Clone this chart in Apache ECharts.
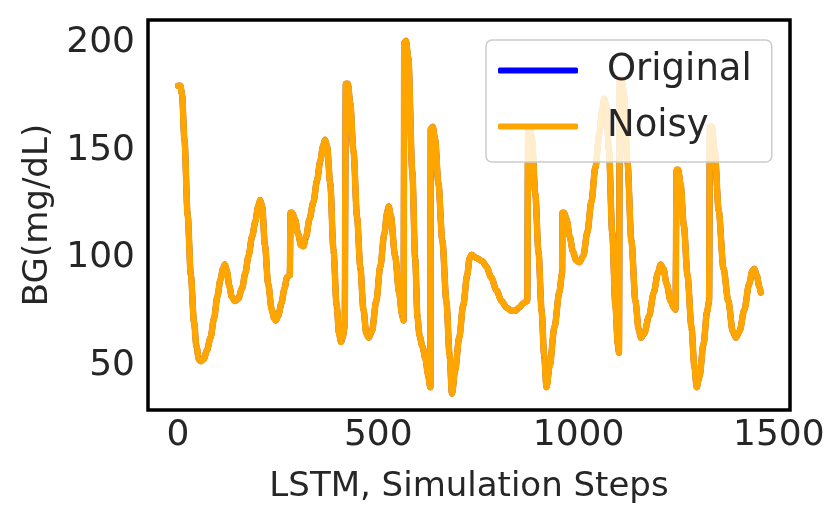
<!DOCTYPE html>
<html>
<head>
<meta charset="utf-8">
<title>BG trace</title>
<script src="https://cdn.jsdelivr.net/npm/echarts@6/dist/echarts.min.js"></script>
<style>
    html, body { margin: 0; padding: 0; background: #fff; }
    #chart { width: 830px; height: 523px; }
</style>
</head>
<body>
<div id="chart"></div>
<script>
// simulation steps (x)
var steps = [
    0, 6, 10, 16, 24, 32, 40, 46, 52, 57, 64, 72, 81, 90, 98, 106, 112, 117, 122, 128,
    134, 142, 150, 160, 168, 176, 185, 193, 200, 205, 210, 217, 225, 234, 240, 244, 250, 258, 266, 272,
    279, 281, 285, 292, 300, 307, 313, 320, 328, 338, 347, 355, 362, 367, 372, 380, 388, 396, 402, 407,
    411, 416, 419, 424, 430, 438, 447, 455, 463, 470, 476, 484, 495, 505, 515, 522, 526, 531, 542, 552,
    559, 563, 565, 569, 575, 585, 592, 598, 603, 610, 618, 624, 630, 631, 636, 642, 650, 660, 670, 678,
    684, 692, 702, 712, 722, 728, 733, 745, 760, 770, 782, 795, 808, 820, 832, 842, 852, 862, 872, 874,
    879, 884, 892, 900, 908, 914, 920, 928, 940, 952, 959, 960, 964, 970, 978, 986, 994, 1002, 1012, 1022,
    1032, 1042, 1052, 1059, 1064, 1069, 1076, 1084, 1092, 1098, 1101, 1103, 1108, 1114, 1122, 1132, 1142, 1150, 1156, 1164,
    1176, 1188, 1198, 1205, 1212, 1220, 1230, 1238, 1242, 1245, 1249, 1255, 1263, 1272, 1282, 1289, 1295, 1302, 1312, 1321,
    1326, 1328, 1333, 1340, 1350, 1362, 1374, 1385, 1393, 1402, 1414, 1426, 1434, 1439, 1445, 1451, 1455
];
// blood glucose, mg/dL
var bgOriginal = [
    180, 180, 176, 155, 120, 92, 70, 59, 53, 52, 53, 57, 63, 72, 82, 90, 95, 97, 94, 87,
    82, 80, 81, 86, 93, 101, 110, 117, 124, 127, 124, 106, 88, 76, 72, 71, 73, 79, 86, 91,
    92, 121, 121, 118, 111, 106, 105.5, 110, 118, 126, 136, 145, 152, 155, 152, 135, 104, 78, 65, 61,
    63, 68, 181, 181, 172, 150, 119, 96, 76, 65, 63, 66, 80, 96, 111, 121, 124, 120, 101, 84,
    74, 71, 200, 201, 193, 140, 100, 72, 64, 59, 53, 46, 40, 160, 161, 155, 135, 108, 80, 55,
    37, 48, 63, 78, 92, 100, 101.5, 100, 98.5, 96, 91, 85, 80, 77, 75.5, 75.5, 77, 79, 80, 159,
    160, 155, 130, 103, 75, 55, 40, 50, 68, 84, 93, 121, 121, 118, 110, 103, 99, 98, 101, 112,
    126, 142, 158, 169, 174, 171, 150, 112, 78, 60, 56, 183, 183, 175, 145, 108, 80, 67, 63, 65,
    73, 84, 93, 97, 95, 88, 80, 77, 76, 141, 141, 134, 115, 92, 68, 50, 40, 45, 60, 75,
    80, 161, 161, 150, 122, 95, 80, 66, 63, 66, 76, 88, 94, 95, 92, 87, 84
];
// noise is too small to see at this scale
var bgNoisy = bgOriginal.slice();

var xTicks = [0, 500, 1000, 1500];
var yTicks = [50, 100, 150, 200];

function pairs(xs, ys) {
    var out = [];
    for (var i = 0; i < xs.length; i++) {
        out.push([xs[i], ys[i]]);
    }
    return out;
}

// plain numbers, no thousands separator
function plain(v) {
    return String(v);
}

var textColor = '#262626';
var font = 'DejaVu Sans';

var chart = echarts.init(document.getElementById('chart'));
chart.setOption({
    animation: false,
    backgroundColor: '#fff',
    grid: {
        left: 148,
        right: 40,
        top: 20,
        bottom: 113,
        show: true,
        borderColor: '#000',
        borderWidth: 3.5,
        backgroundColor: 'transparent'
    },
    legend: {
        orient: 'vertical',
        left: 486,
        top: 40,
        padding: [12, 20, 17, 12],
        itemGap: 19,
        itemWidth: 80,
        itemHeight: 6,
        icon: 'roundRect',
        backgroundColor: 'rgba(255,255,255,0.8)',
        borderColor: '#cccccc',
        borderWidth: 1.5,
        borderRadius: 6,
        textStyle: {
            color: textColor,
            fontFamily: font,
            fontSize: 37,
            padding: [0, 0, 0, 24]
        },
        data: ['Original', 'Noisy']
    },
    xAxis: {
        type: 'value',
        min: -75,
        max: 1528,
        name: 'LSTM, Simulation Steps',
        nameLocation: 'middle',
        nameGap: 60,
        nameTextStyle: { color: textColor, fontFamily: font, fontSize: 34 },
        axisLine: { show: false },
        axisTick: { show: false },
        splitLine: { show: false },
        axisLabel: {
            customValues: xTicks,
            formatter: plain,
            color: textColor,
            fontFamily: font,
            fontSize: 36,
            margin: 8
        }
    },
    yAxis: {
        type: 'value',
        min: 29.4,
        max: 210.6,
        name: 'BG(mg/dL)',
        nameLocation: 'middle',
        nameGap: 93,
        nameTextStyle: { color: textColor, fontFamily: font, fontSize: 34 },
        axisLine: { show: false },
        axisTick: { show: false },
        splitLine: { show: false },
        axisLabel: {
            customValues: yTicks,
            formatter: plain,
            color: textColor,
            fontFamily: font,
            fontSize: 36,
            margin: 13
        }
    },
    series: [
        {
            name: 'Original',
            type: 'line',
            data: pairs(steps, bgOriginal),
            showSymbol: false,
            smooth: 0.3,
            smoothMonotone: 'x',
            color: '#0000ff',
            lineStyle: { color: '#0000ff', width: 6, cap: 'round', join: 'round' }
        },
        {
            name: 'Noisy',
            type: 'line',
            data: pairs(steps, bgNoisy),
            showSymbol: false,
            smooth: 0.3,
            smoothMonotone: 'x',
            color: '#ffa500',
            lineStyle: { color: '#ffa500', width: 6.5, cap: 'round', join: 'round' }
        }
    ]
});
</script>
</body>
</html>
